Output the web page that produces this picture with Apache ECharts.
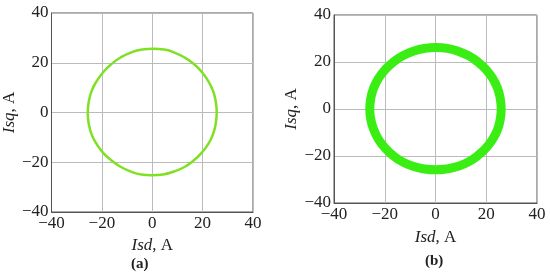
<!DOCTYPE html>
<html>
<head>
<meta charset="utf-8">
<script src="https://cdn.jsdelivr.net/npm/echarts@6/dist/echarts.min.js"></script>
<style>
    html, body { margin: 0; padding: 0; background: #fff; }
    #chart { width: 550px; height: 277px; }
</style>
</head>
<body>
<div id="chart"></div>
<script>
    // axis ticks shared by both panels
    var tickValues = [-40, -20, 0, 20, 40];

    // panel (a): current trajectory (Isd, Isq)
    var curveA = [
        [25.6, 0], [25.2, 4.5], [24.1, 8.8], [22.1, 12.8], [19.6, 16.4], [16.4, 19.6],
        [12.7, 22.2], [8.8, 24.1], [4.7, 25.3], [0.5, 25.6], [-4.0, 25.3], [-8.3, 24.2],
        [-12.6, 22.1], [-16.2, 19.5], [-19.4, 16.3], [-22.0, 12.7], [-24.0, 8.8], [-25.2, 4.4],
        [-25.6, -0.3], [-25.2, -4.6], [-24.0, -9.0], [-22.0, -12.8], [-19.5, -16.2], [-16.3, -19.2],
        [-12.6, -21.8], [-8.6, -23.7], [-4.4, -24.9], [-0.2, -25.2], [4.3, -24.9], [8.6, -23.7],
        [12.8, -21.9], [16.4, -19.3], [19.6, -16.2], [22.2, -12.7], [24.1, -8.8], [25.2, -4.5],
        [25.6, 0]
    ];

    // panel (b): thick band trajectory, centre line of the band
    var curveB = [
        [25.9, 0], [25.5, 4.6], [24.4, 9.0], [22.5, 13.1], [19.9, 16.8], [16.7, 20.0],
        [13.0, 22.7], [8.9, 24.6], [4.6, 25.8], [0.2, 26.2], [-4.3, 25.8], [-8.8, 24.6],
        [-13.0, 22.6], [-16.7, 19.9], [-19.9, 16.7], [-22.5, 13.0], [-24.4, 8.9], [-25.5, 4.5],
        [-25.9, 0], [-25.5, -4.5], [-24.3, -8.9], [-22.4, -13.0], [-19.8, -16.7], [-16.6, -19.9],
        [-13.0, -22.5], [-8.9, -24.4], [-4.5, -25.5], [0, -25.9], [4.5, -25.5], [8.9, -24.4],
        [13.0, -22.5], [16.7, -19.8], [19.9, -16.6], [22.5, -12.9], [24.4, -8.9], [25.5, -4.5],
        [25.9, 0]
    ];

    var font = '"Liberation Serif", "DejaVu Serif", serif';

    function axisName(v) {
        return '{i|' + v + '}, A';
    }

    function makeAxis(idx, isX, nameGap) {
        return {
            type: 'value',
            gridIndex: idx,
            min: tickValues[0],
            max: tickValues[tickValues.length - 1],
            interval: 20,
            name: axisName(isX ? 'Isd' : 'Isq'),
            nameLocation: 'middle',
            nameGap: nameGap,
            nameTextStyle: {
                fontFamily: font,
                fontSize: 17,
                color: '#222',
                rich: { i: { fontFamily: font, fontStyle: 'italic', fontSize: 17, color: '#222' } }
            },
            axisLine: { show: true, onZero: false, lineStyle: { color: '#555', width: 1 } },
            axisTick: { show: false },
            axisLabel: {
                fontFamily: font,
                fontSize: 17,
                color: '#222',
                margin: isX ? 3 : 3,
                formatter: function (v) { return v < 0 ? '\u2212' + (-v) : '' + v; }
            },
            splitLine: { show: true, lineStyle: { color: '#bbb', width: 1 } }
        };
    }

    var myChart = echarts.init(document.getElementById('chart'));
    var option = {
        animation: false,
        backgroundColor: '#fff',
        grid: [
            { left: 42, top: 13, width: 211, height: 199, show: true, borderColor: '#555', borderWidth: 1 },
            { left: 334, top: 15, width: 203, height: 188, show: true, borderColor: '#555', borderWidth: 1 }
        ],
        xAxis: [makeAxis(0, true, 25), makeAxis(1, true, 26)],
        yAxis: [makeAxis(0, false, 29), makeAxis(1, false, 27)],
        graphic: [
            { type: 'text', left: 131, top: 257, style: { text: '(a)', fontFamily: font, fontSize: 15, fontWeight: 'bold', fill: '#222' } },
            { type: 'text', left: 425, top: 254, style: { text: '(b)', fontFamily: font, fontSize: 15, fontWeight: 'bold', fill: '#222' } }
        ],
        series: [
            {
                type: 'line',
                xAxisIndex: 0,
                yAxisIndex: 0,
                data: curveA,
                smooth: true,
                symbol: 'none',
                lineStyle: { color: '#7fe024', width: 2.5 }
            },
            {
                type: 'line',
                xAxisIndex: 1,
                yAxisIndex: 1,
                data: curveB,
                smooth: true,
                symbol: 'none',
                lineStyle: { color: '#3aee14', width: 9 }
            }
        ]
    };
    myChart.setOption(option);
</script>
</body>
</html>
